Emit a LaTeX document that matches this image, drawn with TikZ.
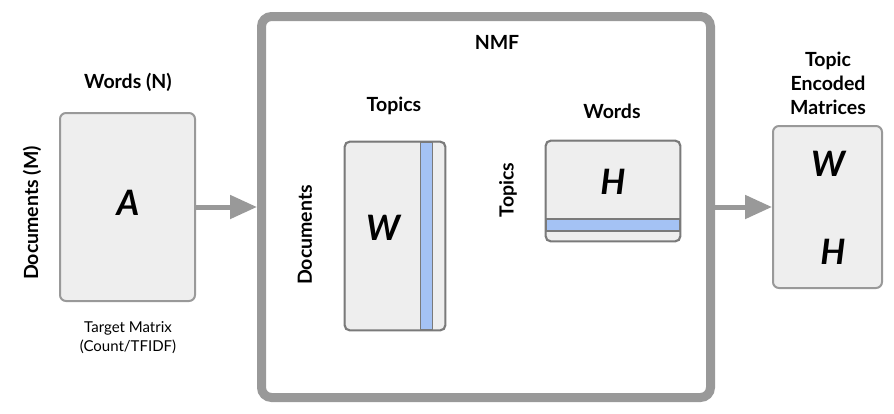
\documentclass[tikz,border=0pt]{standalone}
\usepackage{fontspec}
\setmainfont{Lato}
\usetikzlibrary{positioning}
\usetikzlibrary{arrows.meta}
\definecolor{nmfgray}{HTML}{999999}
\definecolor{matfill}{HTML}{EEEEEE}
\definecolor{matline}{HTML}{7A7A7A}
\definecolor{topicblue}{HTML}{A4C2F4}
\tikzset{
    mybox/.style = {rectangle, rounded corners=6pt, line width=2pt, draw=nmfgray, fill=matfill, inner sep=0pt},
    mymat/.style = {rectangle, rounded corners=5pt, line width=1.3pt, draw=matline, fill=matfill, inner sep=0pt},
    mystripe/.style = {line width=1.1pt, draw=matline, fill=topicblue},
    mynmf/.style = {rectangle, rounded corners=10pt, line width=9pt, draw=nmfgray, inner sep=0pt},
    mylabel/.style = {font=\fontsize{19.5}{22}\selectfont\bfseries, inner sep=0pt},
    mysmall/.style = {font=\fontsize{15}{19}\selectfont, align=center, inner sep=0pt},
    myletter/.style = {font=\fontsize{35}{38}\selectfont\bfseries\itshape, inner sep=0pt},
    edgea/.style = {line width=5pt, nmfgray, -{Triangle[length=27pt,width=23pt]}}
}
\begin{document}
\begin{tikzpicture}[x=1pt,y=-1pt]
  \useasboundingbox (0,0) rectangle (894,413);
  % target matrix
  \node[mybox, minimum width=135pt, minimum height=188pt] (A) at (127.5,207) {};
  \node[myletter] at (128,203) {A};
  \node[mylabel] (wordsA) at (128,82) {Words (N)};
  \node[mylabel, rotate=90] (docsA) at (32,213) {Documents (M)};
  \node[mysmall] (target) at (128,338) {Target Matrix\\(Count/TFIDF)};
  % NMF
  \node[mynmf, minimum width=449pt, minimum height=381pt] (nmf) at (486,207) {};
  \node[mylabel] (nmftitle) at (497,42) {NMF};
  \node[mymat, minimum width=100pt, minimum height=188pt] (W) at (395,236) {};
  \draw[mystripe] (420.5,142) rectangle (432.5,330);
  \draw[matline, line width=1.3pt, rounded corners=5pt] (W.north west) rectangle (W.south east);
  \node[myletter] at (383,228) {W};
  \node[mylabel] (topicsW) at (394,106) {Topics};
  \node[mylabel, rotate=90] (docsW) at (305,235) {Documents};
  \node[mymat, minimum width=134pt, minimum height=100pt] (H) at (613,191) {};
  \draw[mystripe] (546,219) rectangle (680,231);
  \draw[matline, line width=1.3pt, rounded corners=5pt] (H.north west) rectangle (H.south east);
  \node[myletter] at (613,182) {H};
  \node[mylabel] (wordsH) at (612,111) {Words};
  \node[mylabel, rotate=90] (topicsH) at (508,190) {Topics};
  % output
  \node[mybox, minimum width=109pt, minimum height=162pt] (out) at (827.5,207) {};
  \node[myletter] at (828,164) {W};
  \node[myletter] at (833,252) {H};
  \node[mylabel, align=center, font=\fontsize{19.5}{24}\selectfont\bfseries] (outtitle) at (828,83) {Topic\\Encoded\\Matrices};
  \draw[edgea] (A.east) -- (nmf.west);
  \draw[edgea] (nmf.east) -- (out.west);
\end{tikzpicture}
\end{document}
